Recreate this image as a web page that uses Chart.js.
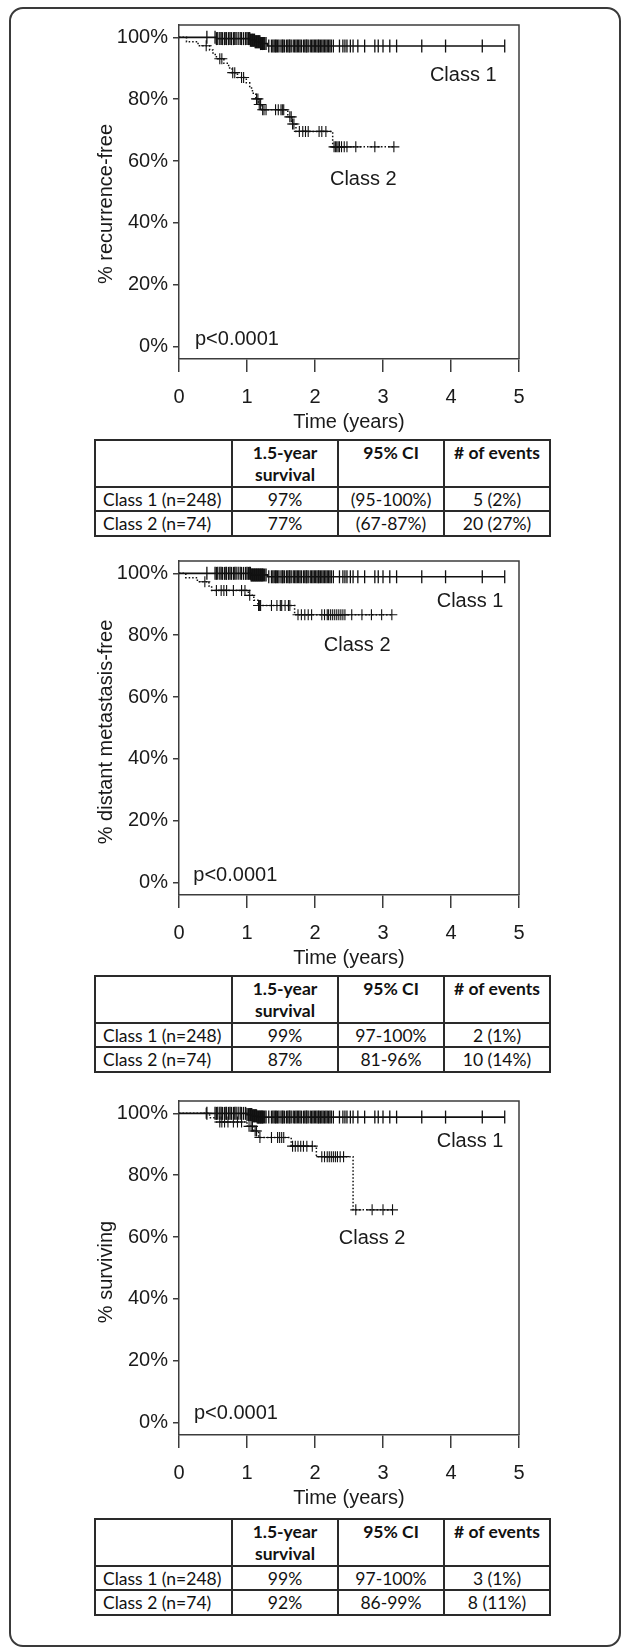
<!DOCTYPE html>
<html>
<head>
<meta charset="utf-8">
<script src="https://cdn.jsdelivr.net/npm/chart.js@4.4.0/dist/chart.umd.min.js"></script>
<style>
  html, body { margin: 0; padding: 0; background: #fff; }
  body { width: 625px; height: 1652px; position: relative; overflow: hidden; }
  .frame {
    position: absolute; left: 9px; top: 7px; width: 608px; height: 1636px;
    border: 2px solid #3a3a3a; border-radius: 14px;
  }
  canvas.km { position: absolute; left: 0; }
  table.stats {
    position: absolute; left: 94px; width: 455px;
    border-collapse: collapse; table-layout: fixed;
    font-family: Lato, "Open Sans", sans-serif; font-size: 17.5px; color: #111;
  }
  table.stats td { border: 2px solid #2a2a2a; padding: 0; text-align: center; vertical-align: middle; }
  table.stats tr.head td { font-weight: bold; vertical-align: top; line-height: 22px; padding-top: 1px; white-space: pre-line; }
  table.stats tr.head { height: 46px; }
  table.stats tr.r1 { height: 24px; }
  table.stats tr.r2 { height: 25px; }
  table.stats td.name { text-align: left; padding-left: 7px; }
</style>
</head>
<body>
<div class="frame"></div>

<canvas id="rfsChart" class="km" width="625" height="434" style="top:0px"></canvas>
<table id="rfsTable" class="stats" style="top:439px"></table>

<canvas id="dmfsChart" class="km" width="625" height="434" style="top:536px"></canvas>
<table id="dmfsTable" class="stats" style="top:975px"></table>

<canvas id="osChart" class="km" width="625" height="434" style="top:1076px"></canvas>
<table id="osTable" class="stats" style="top:1518px"></table>

<script>
const timeTicks = [0, 1, 2, 3, 4, 5];
const pctTicks = [0, 20, 40, 60, 80, 100];

// Kaplan-Meier steps: [time in years, % event-free after the step]
const rfsClass1Steps = [[0, 100], [0.55, 99.6], [1.05, 99.1], [1.12, 98.6], [1.2, 98.0], [1.3, 97.2]];
const rfsClass2Steps = [[0, 100], [0.11, 98.6], [0.28, 97.3], [0.45, 95.9], [0.5, 94.5], [0.55, 93.1],
  [0.66, 91.6], [0.73, 90.1], [0.78, 88.6], [0.86, 87.0], [0.99, 85.3], [1.04, 83.6], [1.08, 81.9],
  [1.13, 80.1], [1.17, 78.3], [1.22, 76.6], [1.6, 74.3], [1.66, 72.0], [1.72, 69.6], [2.26, 64.6]];

const dmfsClass1Steps = [[0, 100], [1.06, 99.5], [1.3, 98.9]];
const dmfsClass2Steps = [[0, 100], [0.1, 98.6], [0.27, 97.3], [0.44, 95.9], [0.48, 94.5], [1.02, 92.9],
  [1.1, 91.3], [1.16, 89.6], [1.7, 86.6]];

const osClass1Steps = [[0, 100], [1.0, 99.6], [1.08, 99.2], [1.15, 98.8]];
const osClass2Steps = [[0, 100], [0.45, 98.6], [0.55, 97.2], [1.0, 95.8], [1.1, 94.3], [1.17, 92.2],
  [1.65, 89.4], [2.02, 86.0], [2.56, 68.8]];

// censored follow-up times (years)
const class1Censored = [0.41, 0.53, 0.55, 0.57, 0.6, 0.62, 0.64, 0.67, 0.69, 0.7, 0.73, 0.75, 0.77, 0.8,
  0.82, 0.84, 0.87, 0.9, 0.92, 0.95, 0.98, 1.0, 1.02, 1.04, 1.05, 1.06, 1.07, 1.08, 1.09, 1.1, 1.11, 1.12,
  1.13, 1.14, 1.15, 1.16, 1.17, 1.18, 1.19, 1.2, 1.21, 1.22, 1.23, 1.24, 1.26, 1.28, 1.32, 1.36, 1.38, 1.4,
  1.42, 1.43, 1.45, 1.47, 1.5, 1.52, 1.53, 1.55, 1.58, 1.6, 1.62, 1.63, 1.65, 1.68, 1.7, 1.72, 1.74, 1.76,
  1.78, 1.8, 1.83, 1.85, 1.87, 1.88, 1.9, 1.93, 1.95, 1.97, 1.99, 2.01, 2.03, 2.05, 2.06, 2.08, 2.1, 2.12,
  2.14, 2.16, 2.18, 2.2, 2.22, 2.24, 2.27, 2.36, 2.41, 2.44, 2.47, 2.52, 2.56, 2.63, 2.73, 2.88, 2.93, 3.0,
  3.1, 3.2, 3.57, 3.92, 4.46, 4.79];
const rfsClass2Censored = [0.4, 0.6, 0.63, 0.79, 0.82, 0.92, 0.95, 1.14, 1.16, 1.18, 1.2, 1.23, 1.25, 1.28,
  1.42, 1.46, 1.5, 1.52, 1.54, 1.63, 1.65, 1.67, 1.69, 1.77, 1.82, 1.86, 1.9, 2.06, 2.1, 2.16, 2.28, 2.3,
  2.32, 2.34, 2.36, 2.39, 2.43, 2.47, 2.6, 2.88, 3.16];
const dmfsClass2Censored = [0.38, 0.55, 0.62, 0.66, 0.7, 0.8, 0.92, 0.97, 1.04, 1.17, 1.18, 1.19, 1.2, 1.36,
  1.44, 1.49, 1.51, 1.56, 1.61, 1.63, 1.75, 1.8, 1.85, 1.9, 1.95, 2.1, 2.14, 2.18, 2.2, 2.23, 2.26, 2.29,
  2.32, 2.35, 2.38, 2.41, 2.44, 2.54, 2.69, 2.83, 2.98, 3.13];
const osClass2Censored = [0.4, 0.6, 0.63, 0.67, 0.72, 0.8, 0.86, 0.92, 1.03, 1.06, 1.08, 1.12, 1.14, 1.19,
  1.36, 1.45, 1.48, 1.51, 1.54, 1.67, 1.71, 1.75, 1.79, 1.83, 1.88, 1.96, 2.1, 2.14, 2.18, 2.21, 2.24, 2.27,
  2.3, 2.33, 2.37, 2.42, 2.6, 2.84, 3.0, 3.14];

const tableHeader = ["", "1.5-year\nsurvival", "95% CI", "# of events"];
const rowLabels = ["Class 1 (n=248)", "Class 2 (n=74)"];
const rfsStats = [["97%", "(95-100%)", "5 (2%)"], ["77%", "(67-87%)", "20 (27%)"]];
const dmfsStats = [["99%", "97-100%", "2 (1%)"], ["87%", "81-96%", "10 (14%)"]];
const osStats = [["99%", "97-100%", "3 (1%)"], ["92%", "86-99%", "8 (11%)"]];

const ink = "#111";
const axisColor = "#3c3c3c";
const fontFamily = '"Liberation Sans", Arial, sans-serif';

Chart.defaults.font.family = fontFamily;
Chart.defaults.font.size = 20;
Chart.defaults.color = "#1a1a1a";

function levelAt(steps, t) {
  let s = steps[0][1];
  for (const [time, value] of steps) if (time <= t) s = value;
  return s;
}

const kmDecor = {
  id: "kmDecor",
  afterDraw(chart, args, opts) {
    const { ctx, chartArea: a, scales: { x, y } } = chart;
    ctx.save();
    ctx.strokeStyle = axisColor;
    ctx.lineWidth = 1.5;
    ctx.beginPath();
    ctx.moveTo(a.left, a.top);
    ctx.lineTo(a.right, a.top);
    ctx.lineTo(a.right, a.bottom);
    ctx.stroke();

    ctx.fillStyle = "#1a1a1a";
    ctx.font = "20px " + fontFamily;
    ctx.textBaseline = "middle";
    opts.labels.forEach((l) => {
      ctx.textAlign = l.align;
      ctx.fillText(l.text, x.getPixelForValue(l.t), y.getPixelForValue(l.s));
    });

    ctx.translate(106, (a.top + a.bottom) / 2 + opts.titleShift);
    ctx.rotate(-Math.PI / 2);
    ctx.textAlign = "center";
    ctx.fillText(opts.yTitle, 0, 0);
    ctx.restore();
  },
};

function makeChart(canvasId, steps1, steps2, censored2, yTitle, titleShift, labels) {
  const end1 = class1Censored[class1Censored.length - 1];
  const end2 = censored2[censored2.length - 1];
  const curve = (steps, end) =>
    steps.map(([x, y]) => ({ x, y })).concat([{ x: end, y: levelAt(steps, end) }]);
  const marks = (steps, times) => times.map((t) => ({ x: t, y: levelAt(steps, t) }));

  return new Chart(document.getElementById(canvasId).getContext("2d"), {
    type: "line",
    data: {
      datasets: [
        {
          label: "Class 1",
          data: curve(steps1, end1),
          stepped: "before",
          borderColor: ink,
          borderWidth: 1.6,
          pointRadius: 0,
          fill: false,
        },
        {
          label: "Class 2",
          data: curve(steps2, end2),
          stepped: "before",
          borderColor: ink,
          borderWidth: 1.5,
          borderDash: [1.5, 2],
          pointRadius: 0,
          fill: false,
        },
        {
          label: "Class 1 censored",
          data: marks(steps1, class1Censored),
          showLine: false,
          pointStyle: "line",
          rotation: 90,
          pointRadius: 6.5,
          pointBorderWidth: 1.3,
          pointBorderColor: ink,
        },
        {
          label: "Class 2 censored",
          data: marks(steps2, censored2),
          showLine: false,
          pointStyle: "cross",
          pointRadius: 5.5,
          pointBorderWidth: 1.1,
          pointBorderColor: ink,
        },
      ],
    },
    options: {
      responsive: false,
      animation: false,
      events: [],
      layout: { padding: { top: 25, right: 106, bottom: 0, left: 0 } },
      plugins: {
        legend: { display: false },
        tooltip: { enabled: false },
        kmDecor: { yTitle, titleShift, labels },
      },
      scales: {
        x: {
          type: "linear",
          min: 0,
          max: 5,
          afterBuildTicks: (s) => { s.ticks = timeTicks.map((v) => ({ value: v })); },
          afterFit: (s) => { s.height = 75; },
          ticks: { padding: 13, maxRotation: 0 },
          grid: { drawOnChartArea: false, tickLength: 13, color: axisColor, lineWidth: 1.5 },
          border: { color: axisColor, width: 1.5 },
          title: { display: true, text: "Time (years)", padding: { top: 0, bottom: 0 } },
        },
        y: {
          type: "linear",
          min: -4,
          max: 104,
          afterBuildTicks: (s) => { s.ticks = pctTicks.map((v) => ({ value: v })); },
          afterFit: (s) => { s.width = 179; },
          ticks: { padding: 5, callback: (v) => v + "%" },
          grid: { drawOnChartArea: false, tickLength: 6, color: axisColor, lineWidth: 1.5 },
          border: { color: axisColor, width: 1.5 },
        },
      },
    },
    plugins: [kmDecor],
  });
}

function buildTable(tableId, stats) {
  const cols = '<colgroup><col style="width:137px"><col style="width:106px"><col style="width:106px"><col style="width:106px"></colgroup>';
  const head = '<tr class="head">' + tableHeader.map((h) => `<td>${h}</td>`).join("") + "</tr>";
  const rows = stats
    .map((r, i) => `<tr class="r${i + 1}"><td class="name">${rowLabels[i]}</td>` +
      r.map((v) => `<td>${v}</td>`).join("") + "</tr>")
    .join("");
  document.getElementById(tableId).innerHTML = cols + head + rows;
}

makeChart("rfsChart", rfsClass1Steps, rfsClass2Steps, rfsClass2Censored, "% recurrence-free", 12, [
  { text: "Class 1", t: 4.18, s: 87.6, align: "center" },
  { text: "Class 2", t: 2.71, s: 53.9, align: "center" },
  { text: "p<0.0001", t: 0.235, s: 2.2, align: "left" },
]);
makeChart("dmfsChart", dmfsClass1Steps, dmfsClass2Steps, dmfsClass2Censored, "% distant metastasis-free", 4, [
  { text: "Class 1", t: 4.28, s: 90.8, align: "center" },
  { text: "Class 2", t: 2.62, s: 76.7, align: "center" },
  { text: "p<0.0001", t: 0.21, s: 2.4, align: "left" },
]);
makeChart("osChart", osClass1Steps, osClass2Steps, osClass2Censored, "% surviving", 4, [
  { text: "Class 1", t: 4.28, s: 90.8, align: "center" },
  { text: "Class 2", t: 2.84, s: 59.6, align: "center" },
  { text: "p<0.0001", t: 0.22, s: 2.9, align: "left" },
]);

buildTable("rfsTable", rfsStats);
buildTable("dmfsTable", dmfsStats);
buildTable("osTable", osStats);
</script>
</body>
</html>
